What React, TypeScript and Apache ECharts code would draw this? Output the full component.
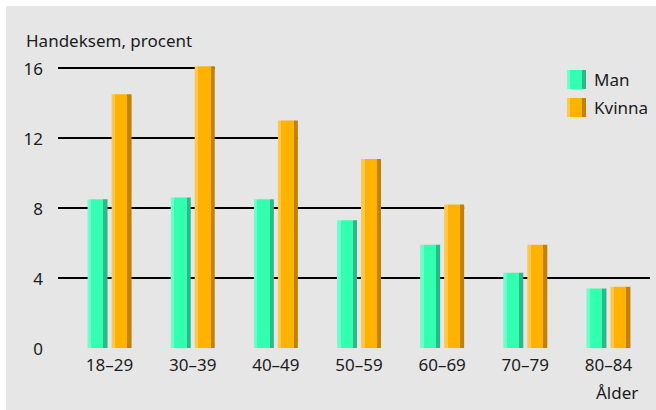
import React, { useEffect, useRef } from "react";
import * as echarts from "echarts";

const categories = ["18–29", "30–39", "40–49", "50–59", "60–69", "70–79", "80–84"];
const manValues = [8.5, 8.6, 8.5, 7.3, 5.9, 4.3, 3.4];
const kvinnaValues = [14.5, 16.1, 13.0, 10.8, 8.2, 5.9, 3.5];
const yMax = 16;
const yInterval = 4;
const gridLineValues = [4, 8, 12, 16];
// category after whose "Kvinna" bar each gridline ends; null = full width
const gridLineEnds: (string | null)[] = [null, "60–69", "40–49", "30–39"];

const FONT = "'Noto Sans', sans-serif";
const TEXT = "#1c1c1c";
const FS = 17;

const grad = (light: string, main: string, dark: string) =>
  new echarts.graphic.LinearGradient(0, 0, 1, 0, [
    { offset: 0, color: light },
    { offset: 0.18, color: light },
    { offset: 0.18, color: main },
    { offset: 0.79, color: main },
    { offset: 0.79, color: dark },
    { offset: 1, color: dark },
  ]);

export default function App() {
  const ref = useRef<HTMLDivElement>(null);
  useEffect(() => {
    if (!ref.current) return;
    const chart = echarts.init(ref.current, undefined, { renderer: "svg" });
    const barW = 20;
    const gapPx = 4;
    const lineData = gridLineValues.map((v, i) => {
      const end = gridLineEnds[i];
      const idx = end === null ? categories.length - 1 : categories.indexOf(end);
      return [idx, v, end === null ? 1 : 0];
    });
    chart.setOption({
      animation: false,
      textStyle: { fontFamily: FONT },
      title: [
        {
          text: "Handeksem, procent",
          left: 20,
          top: 24,
          padding: 0,
          textStyle: { fontFamily: FONT, fontSize: FS, fontWeight: "normal", color: TEXT, lineHeight: 20 },
        },
        {
          text: "Ålder",
          left: 590,
          top: 376,
          padding: 0,
          textStyle: { fontFamily: FONT, fontSize: FS, fontWeight: "normal", color: TEXT, lineHeight: 20 },
        },
      ],
      legend: {
        data: ["Man", "Kvinna"],
        orient: "vertical",
        left: 561,
        top: 64,
        padding: 0,
        itemWidth: 19,
        itemHeight: 19,
        itemGap: 9,
        icon: "rect",
        textStyle: { fontFamily: FONT, fontSize: FS, color: TEXT, padding: [0, 0, 0, 3] },
      },
      grid: { left: 62, right: 6, top: 62, bottom: 62, containLabel: false },
      xAxis: {
        type: "category",
        data: categories,
        axisLine: { show: false },
        axisTick: { show: false },
        axisLabel: { fontFamily: FONT, fontSize: FS, color: TEXT, margin: 8 },
      },
      yAxis: {
        type: "value",
        min: 0,
        max: yMax,
        interval: yInterval,
        axisLine: { show: false },
        axisTick: { show: false },
        splitLine: { show: false },
        axisLabel: { fontFamily: FONT, fontSize: FS, color: TEXT, margin: 25 },
      },
      series: [
        {
          type: "custom",
          name: "grid",
          z: 1,
          silent: true,
          encode: { x: 0, y: 1 },
          data: lineData,
          renderItem: (params: any, api: any) => {
            const cs = params.coordSys;
            const idx = api.value(0);
            const v = api.value(1);
            const full = api.value(2);
            const pt = api.coord([idx, v]);
            const xEnd = full ? cs.x + cs.width : pt[0] + barW + gapPx / 2;
            return {
              type: "line",
              shape: { x1: cs.x - 10, y1: pt[1], x2: xEnd, y2: pt[1] },
              style: { stroke: "#000", lineWidth: 2 },
            };
          },
        },
        {
          type: "bar",
          name: "Man",
          z: 2,
          clip: false,
          data: manValues,
          barWidth: barW,
          barGap: "20%",
          itemStyle: { color: grad("#6affcc", "#33ffb1", "#2bb987") },
        },
        {
          type: "bar",
          name: "Kvinna",
          z: 2,
          clip: false,
          data: kvinnaValues,
          barWidth: barW,
          barGap: "20%",
          itemStyle: { color: grad("#ffc84a", "#ffb200", "#c08200") },
        },
      ],
    });
    return () => chart.dispose();
  }, []);
  return (
    <div style={{ position: "fixed", left: 0, top: 0, width: 656, height: 410, background: "#fff" }}>
      <div
        ref={ref}
        style={{ position: "absolute", left: 6, top: 6, width: 650, height: 404, background: "#e6e6e6" }}
      />
    </div>
  );
}
